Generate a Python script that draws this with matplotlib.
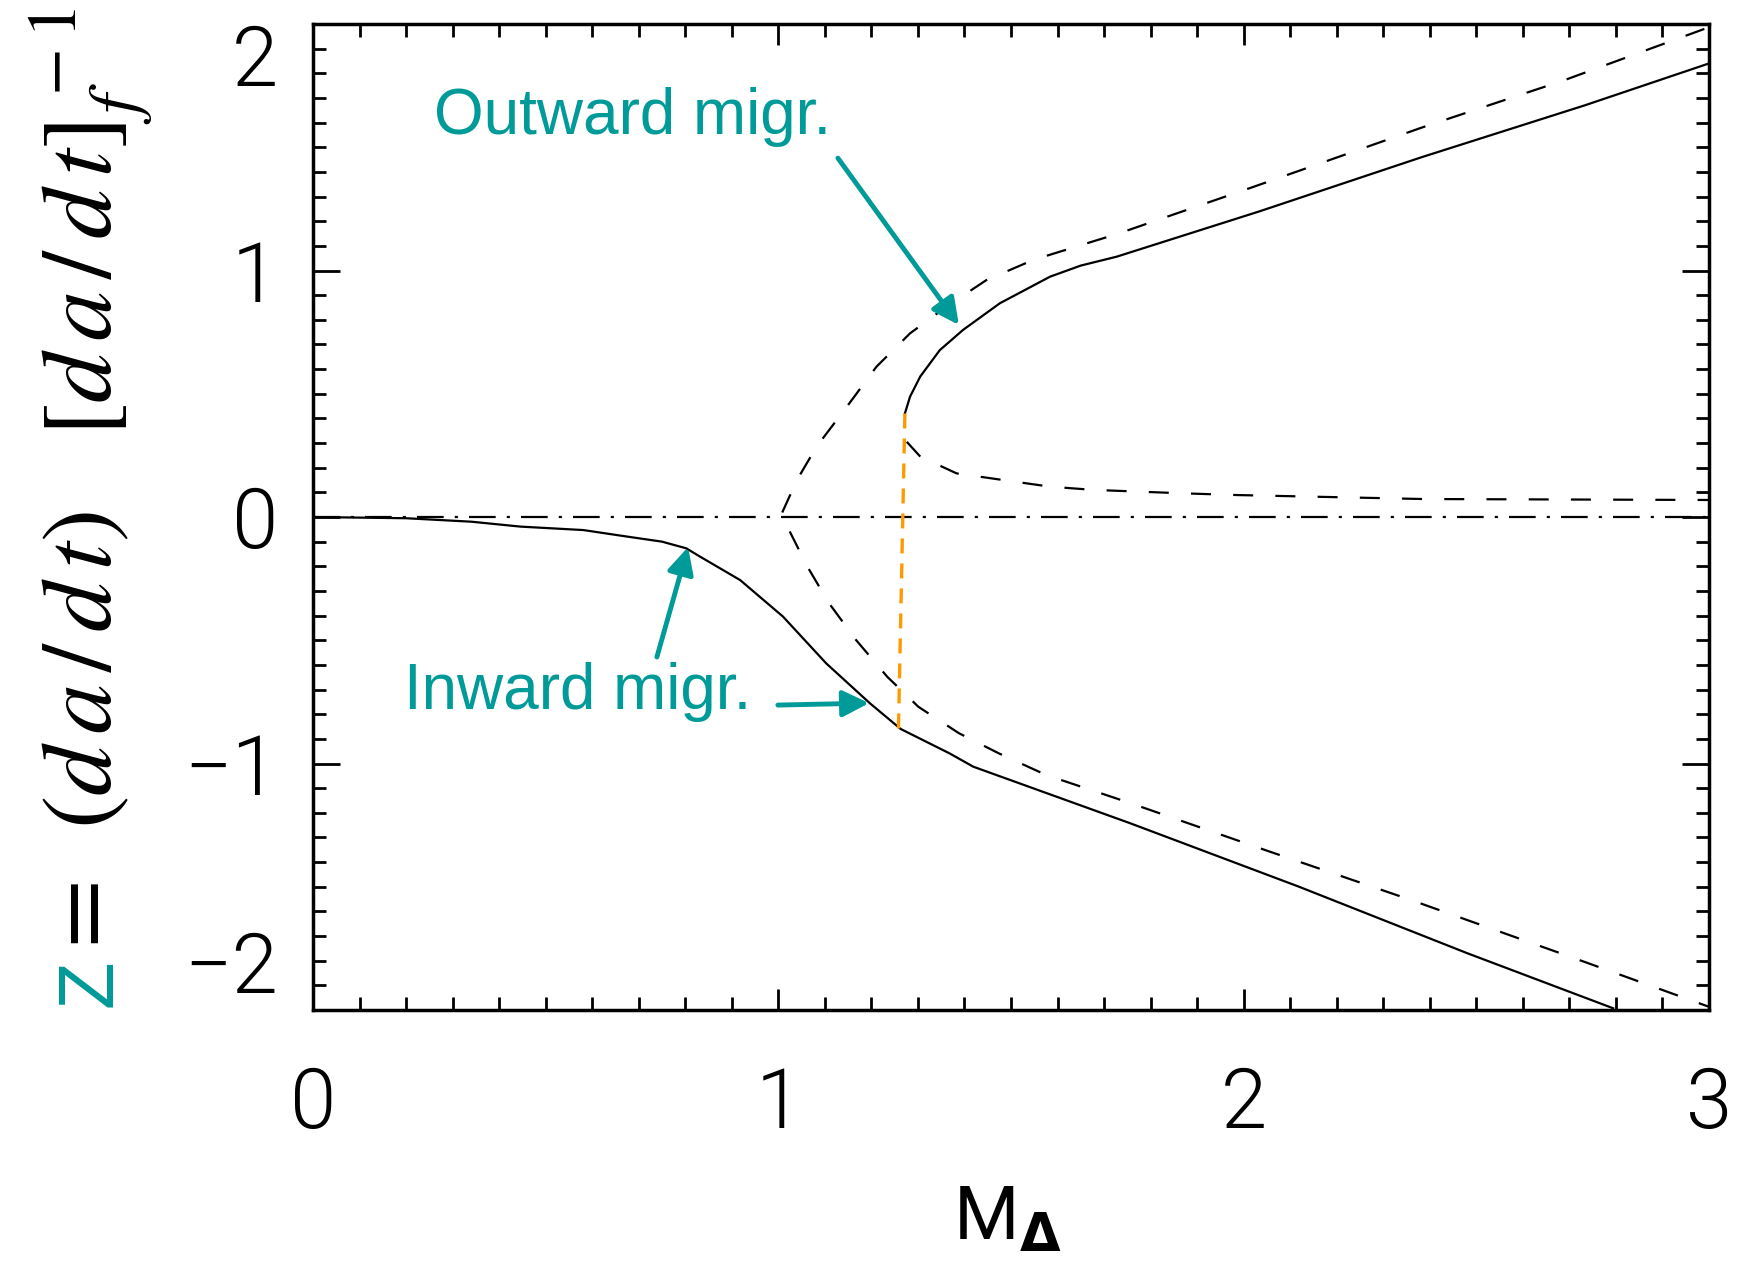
import numpy as np
import matplotlib
matplotlib.use('Agg')
import matplotlib.pyplot as plt
from matplotlib import font_manager
from matplotlib.ticker import MultipleLocator

# values
lower_x = [0.0, 0.2, 0.34, 0.446, 0.581, 0.677, 0.75, 0.802, 0.832, 0.918, 1.01,
           1.103, 1.197, 1.263, 1.368, 1.419, 1.757, 2.119, 2.481, 2.794]
lower_y = [0.0, -0.005, -0.019, -0.039, -0.053, -0.08, -0.10, -0.127, -0.161, -0.256, -0.404,
           -0.594, -0.756, -0.86, -0.959, -1.013, -1.243, -1.50, -1.77, -1.993]

upper_x = [1.272, 1.283, 1.305, 1.347, 1.397, 1.476, 1.584, 1.65, 1.727, 2.034, 2.383, 2.733, 3.0]
upper_y = [0.42, 0.488, 0.57, 0.677, 0.759, 0.867, 0.975, 1.02, 1.056, 1.24, 1.46, 1.67, 1.84]

dash_up_x = [1.004, 1.04, 1.082, 1.147, 1.211, 1.283, 1.361, 1.447, 1.548, 1.731,
             2.022, 2.383, 2.686, 2.99]
dash_up_y = [0.0, 0.15, 0.285, 0.447, 0.61, 0.745, 0.853, 0.961, 1.043, 1.15,
             1.34, 1.58, 1.77, 1.98]
dash_lo_x = [1.004, 1.023, 1.062, 1.109, 1.167, 1.234, 1.301, 1.388, 1.474, 1.576,
             1.757, 2.046, 2.36, 2.721, 3.0]
dash_lo_y = [0.0, -0.053, -0.20, -0.35, -0.499, -0.648, -0.77, -0.877, -0.959, -1.047,
             -1.161, -1.351, -1.554, -1.797, -1.987]
dash_mid_x = [1.276, 1.305, 1.383, 1.483, 1.584, 1.677, 1.87, 1.987, 2.383, 3.0]
dash_mid_y = [0.305, 0.245, 0.177, 0.15, 0.123, 0.11, 0.096, 0.089, 0.073, 0.069]

jump_x = [1.272, 1.258]
jump_y = [0.42, -0.871]

xticks = [0, 1, 2, 3]
yticks = [-2, -1, 0, 1, 2]

teal = '#009a98'
orange = '#ff9900'


def thin_font():
    # pick a light sans weight if one is installed
    have = {}
    for f in font_manager.fontManager.ttflist:
        have.setdefault(f.name, set()).add(f.weight)
    for name in ['Roboto', 'Open Sans', 'Noto Sans', 'Lato']:
        if name in have and 300 in have[name]:
            return name, 300
    return 'DejaVu Sans', 'normal'


def main():
    fam, wt = thin_font()
    plt.rcParams['font.family'] = fam
    plt.rcParams['font.weight'] = wt

    fig = plt.figure(figsize=(17.45, 12.64), dpi=100)
    ax = fig.add_axes([313 / 1745, 1 - 1010 / 1264, 1396 / 1745, 986 / 1264])

    # zero line
    ax.plot([0, 3], [0, 0], color='black', lw=1.6, ls=(0, (12, 5, 1.4, 5)))

    # solid branches
    ax.plot(lower_x, lower_y, color='black', lw=1.6)
    ax.plot(upper_x, upper_y, color='black', lw=1.6)

    # dashed branches
    dx = dash_up_x[::-1] + dash_lo_x[1:]
    dy = dash_up_y[::-1] + dash_lo_y[1:]
    ax.plot(dx, dy, color='black', lw=1.6, ls=(0, (9, 10)))
    ax.plot(dash_mid_x, dash_mid_y, color='black', lw=1.6, ls=(0, (9, 10)))

    # jump
    ax.plot(jump_x, jump_y, color=orange, lw=2.4, ls=(0, (4.5, 3)))

    ax.set_xlim(0, 3)
    ax.set_ylim(-2, 2)
    ax.set_xticks(xticks)
    ax.set_yticks(yticks)
    ax.set_xticklabels([str(v) for v in xticks])
    ax.set_yticklabels([str(v).replace('-', '\u2212') for v in yticks])
    ax.xaxis.set_minor_locator(MultipleLocator(0.1))
    ax.yaxis.set_minor_locator(MultipleLocator(0.1))
    ax.tick_params(which='both', direction='in', top=True, right=True, width=2,
                   labelsize=60, labelcolor='black')
    ax.tick_params(axis='x', which='major', length=15, pad=40)
    ax.tick_params(axis='y', which='major', length=19.5, pad=25)
    ax.tick_params(which='minor', length=9.5)
    for s in ax.spines.values():
        s.set_linewidth(2.5)
    ylabs = ax.get_yticklabels()
    ylabs[0].set_va('bottom')
    ylabs[-1].set_va('top')

    ax.set_xlabel(r'M$_{\mathbf{\Delta}}$', fontsize=54, math_fontfamily='dejavusans')
    ax.xaxis.set_label_coords(0.497, -0.176)

    # y label: teal Z pasted over the original start
    fig.text(111 / 1745, 1 - 1007 / 1264, 'Z', color=teal, fontsize=56,
             family='Liberation Sans', weight='normal', rotation=90,
             rotation_mode='anchor', ha='left', va='baseline')
    fig.text(113 / 1745, 1 - 962 / 1264,
             r'$=\ \,(d\,a\,/\,d\,t)\ \ \ [d\,a\,/\,d\,t]_f^{\,-1}$',
             fontsize=72, math_fontfamily='stix', rotation=90,
             rotation_mode='anchor', ha='left', va='baseline')

    # annotations
    ax.text(0.26, 1.554, 'Outward migr.', color=teal, fontsize=46,
            family='Liberation Sans', weight='normal', va='baseline')
    ax.text(0.196, -0.779, 'Inward migr.', color=teal, fontsize=46,
            family='Liberation Sans', weight='normal', va='baseline')
    arrow = dict(arrowstyle='-|>', color=teal, lw=3.5, mutation_scale=40,
                 shrinkA=0, shrinkB=0)
    ax.annotate('', xy=(1.388, 0.779), xytext=(1.128, 1.456), arrowprops=arrow)
    ax.annotate('', xy=(0.806, -0.122), xytext=(0.739, -0.568), arrowprops=arrow)
    ax.annotate('', xy=(1.195, -0.755), xytext=(0.999, -0.763), arrowprops=arrow)

    fig.savefig('out.png', dpi=100)


if __name__ == '__main__':
    main()
